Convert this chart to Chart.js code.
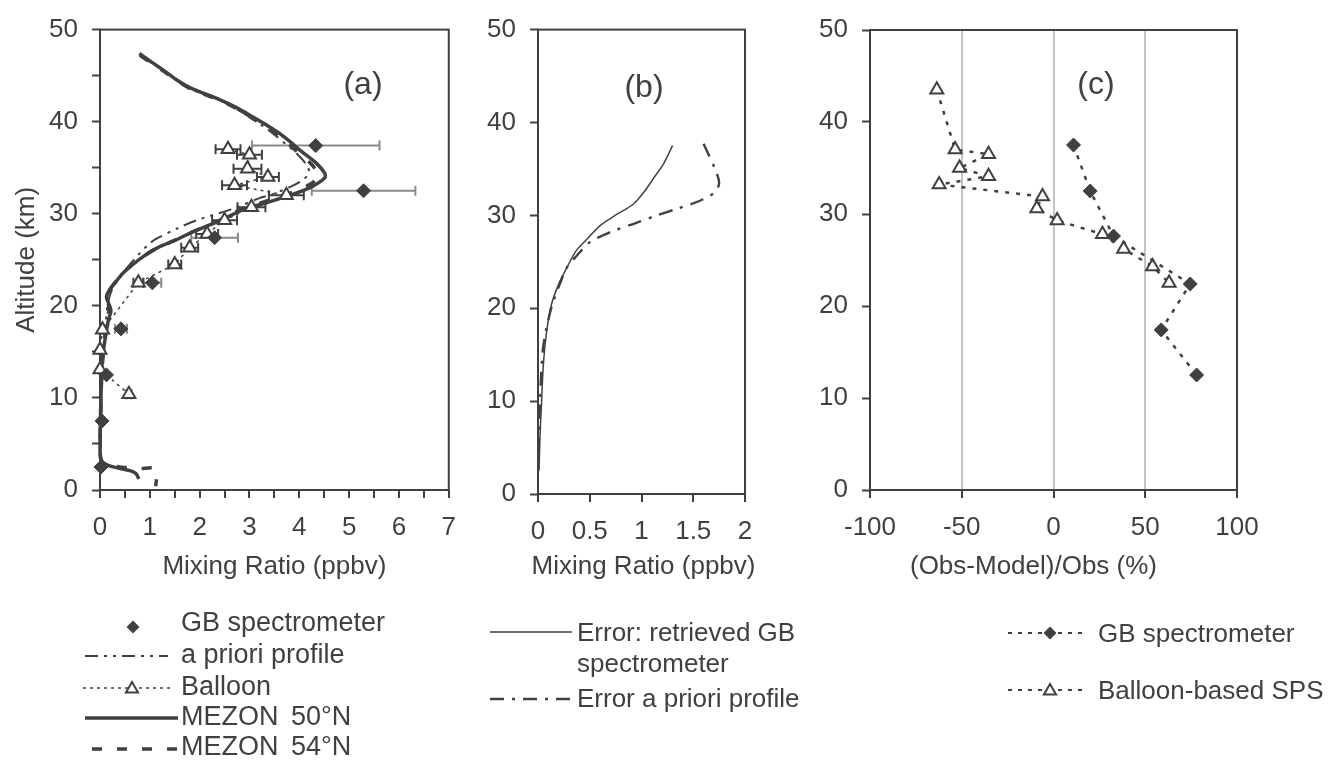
<!DOCTYPE html>
<html>
<head>
<meta charset="utf-8">
<script src="https://cdn.jsdelivr.net/npm/chart.js@4.4.1/dist/chart.umd.min.js"></script>
<style>
  html, body { margin: 0; padding: 0; background: #fff; }
  body { width: 1335px; height: 760px; position: relative; overflow: hidden;
         font-family: "Liberation Sans", Arial, sans-serif; color: #404040; }
  canvas { position: absolute; top: 0; }
  .tag { position: absolute; font-size: 32px; line-height: 1; transform: translate(-50%, -50%); white-space: nowrap; }
  .lg { position: absolute; font-size: 26px; line-height: 26px; white-space: nowrap; }
  .lga { position: absolute; font-size: 27px; line-height: 27px; white-space: nowrap; }
  .lg2 { position: absolute; font-size: 26px; line-height: 31px; white-space: nowrap; }
  svg.keys { position: absolute; left: 0; top: 0; width: 1335px; height: 760px; overflow: visible; }
</style>
</head>
<body>
<canvas id="chartA" width="470" height="600" style="left:0px"></canvas>
<canvas id="chartB" width="330" height="600" style="left:470px"></canvas>
<canvas id="chartC" width="555" height="600" style="left:780px"></canvas>

<div class="tag" style="left:363px;top:83px">(a)</div>
<div class="tag" style="left:644px;top:86px">(b)</div>
<div class="tag" style="left:1096px;top:83px">(c)</div>

<svg class="keys" id="keys"></svg>

<div class="lga" style="left:181px;top:609px">GB spectrometer</div>
<div class="lga" style="left:181px;top:641px">a priori profile</div>
<div class="lga" style="left:181px;top:673px">Balloon</div>
<div class="lga" style="left:181px;top:703px;word-spacing:5px">MEZON 50°N</div>
<div class="lga" style="left:181px;top:733px;word-spacing:5px">MEZON 54°N</div>

<div class="lg2" style="left:577px;top:617px">Error: retrieved GB<br>spectrometer</div>
<div class="lg" style="left:577px;top:685px">Error a priori profile</div>

<div class="lg" style="left:1098px;top:620px">GB spectrometer</div>
<div class="lg" style="left:1098px;top:677px">Balloon-based SPS</div>

<script>
// ---------- Panel (a): mixing ratio profiles (ppbv vs km) ----------
const gbAlt = [37.4, 32.5, 27.4, 22.5, 17.5, 12.5, 7.5, 2.5];
const gbMix = [4.33, 5.29, 2.30, 1.05, 0.42, 0.13, 0.04, 0.02];
const gbErr = [1.28, 1.04, 0.47, 0.18, 0.12, 0.03, 0.02, 0.02];

const balAlt = [37.0, 36.4, 34.9, 34.0, 33.1, 32.0, 30.7, 29.3, 27.8, 26.3, 24.5, 22.5, 17.4, 15.2, 13.1, 10.4];
const balMix = [2.57, 3.00, 2.96, 3.37, 2.70, 3.74, 3.04, 2.50, 2.15, 1.80, 1.50, 0.77, 0.05, 0.00, 0.00, 0.58];
const balErr = [0.25, 0.25, 0.28, 0.22, 0.25, 0.35, 0.28, 0.25, 0.22, 0.17, 0.13, 0.10, 0.03, 0.02, 0.02, 0.05];

const m50Alt = [47.4, 46.6, 45.6, 44.6, 43.7, 42.4, 41.5, 40.5, 39.6, 38.7, 37.8, 36.9, 35.5, 34.4, 33.9, 33.0, 32.1, 31.2,
                30.4, 29.8, 28.9, 28.0, 27.1, 26.3, 25.4, 24.5, 23.6, 22.7, 21.8, 21.0, 20.3, 19.5, 18.5, 16.3, 13.8,
                10.3, 4.6, 3.2, 2.7, 2.4, 2.1, 1.8, 1.2];
const m50Mix = [0.79, 1.00, 1.27, 1.52, 1.80, 2.40, 2.75, 3.07, 3.35, 3.61, 3.82, 4.01, 4.34, 4.51, 4.51, 4.27, 3.87, 3.34,
                2.85, 2.62, 2.25, 1.85, 1.50, 1.15, 0.88, 0.66, 0.47, 0.33, 0.20, 0.13, 0.17, 0.22, 0.17, 0.10, 0.04,
                0.02, 0.00, 0.03, 0.15, 0.35, 0.60, 0.72, 0.78];

const m54Alt = [47.2, 46.4, 45.4, 44.4, 43.5, 42.3, 41.3, 40.3, 39.4, 38.5, 37.6, 36.7, 35.4, 34.3, 33.8, 33.0, 32.2, 31.3,
                30.5, 29.7, 28.8, 27.9, 27.0, 26.2, 25.3, 24.4, 23.5, 22.6, 21.7, 20.8, 19.8, 18.6, 16.0, 13.0,
                9.5, 4.5, 3.0, 2.6, 2.3, 2.3, 0.4];
const m54Mix = [0.80, 1.02, 1.30, 1.56, 1.84, 2.42, 2.78, 3.08, 3.34, 3.58, 3.78, 3.96, 4.24, 4.38, 4.36, 4.15, 3.80, 3.30,
                2.82, 2.58, 2.20, 1.80, 1.45, 1.12, 0.85, 0.63, 0.45, 0.31, 0.19, 0.14, 0.18, 0.15, 0.09, 0.04,
                0.02, 0.00, 0.04, 0.30, 0.75, 1.12, 1.12];

const aprAlt = [47.2, 46.4, 45.4, 44.4, 43.5, 42.3, 41.3, 40.3, 39.4, 38.5, 37.6, 36.9, 35.5, 34.5, 33.8, 33.0, 32.1, 31.7,
                30.6, 29.3, 28.4, 27.4, 26.8, 25.6, 24.5, 23.0, 21.5, 20.0, 18.5, 17.0, 14.0, 10.0, 6.0, 3.0];
const aprMix = [0.82, 1.03, 1.31, 1.57, 1.85, 2.42, 2.76, 3.06, 3.30, 3.52, 3.72, 3.88, 4.12, 4.20, 4.10, 3.85, 3.45, 3.20,
                2.70, 1.94, 1.55, 1.17, 1.00, 0.78, 0.60, 0.38, 0.22, 0.15, 0.12, 0.09, 0.05, 0.03, 0.02, 0.02];

const altTicksA = [0, 5, 10, 15, 20, 25, 30, 35, 40, 45, 50];
const mixTicksA = [0, 0.5, 1, 1.5, 2, 2.5, 3, 3.5, 4, 4.5, 5, 5.5, 6, 6.5, 7];

// ---------- Panel (b): errors (ppbv vs km) ----------
const errRetAlt = [37.5, 35.5, 33.9, 32.6, 31.2, 30.1, 28.9, 27.4, 26.2, 24.4, 22.6, 20.4, 17.2, 13.6, 10.0, 6.4, 2.5];
const errRetVal = [1.30, 1.21, 1.11, 1.03, 0.92, 0.76, 0.60, 0.47, 0.37, 0.28, 0.20, 0.13, 0.08, 0.05, 0.035, 0.02, 0.01];
const errAprAlt = [37.7, 35.0, 33.5, 32.5, 31.6, 30.7, 30.0, 29.2, 28.2, 27.1, 25.6, 24.4, 22.6, 20.1, 15.8, 10.0, 2.5];
const errAprVal = [1.60, 1.71, 1.75, 1.71, 1.57, 1.34, 1.15, 0.95, 0.70, 0.50, 0.37, 0.28, 0.21, 0.13, 0.05, 0.02, 0.00];

const altTicksB = [0, 10, 20, 30, 40, 50];
const mixTicksB = [0, 0.5, 1, 1.5, 2];

// ---------- Panel (c): relative difference (%) vs km ----------
const devGbAlt = [37.5, 32.5, 27.6, 22.4, 17.4, 12.5];
const devGbPct = [10.9, 20.0, 32.7, 74.5, 58.7, 78.0];
const devBalAlt = [43.5, 37.0, 36.5, 35.0, 34.1, 33.2, 31.9, 30.6, 29.3, 27.8, 26.2, 24.3, 22.5];
const devBalPct = [-63.6, -53.6, -35.4, -51.2, -35.4, -62.3, -6.0, -9.1, 2.0, 26.7, 38.2, 54.0, 63.0];

const altTicksC = [0, 10, 20, 30, 40, 50];
const pctTicksC = [-100, -50, 0, 50, 100];
const pctGridC = [-50, 0, 50];

// ---------- shared styling ----------
const INK = '#404040';
const FONT = '"Liberation Sans", Arial, sans-serif';
Chart.defaults.font.family = FONT;
Chart.defaults.color = INK;

const pts = (xs, ys) => xs.map((x, i) => ({ x: x, y: ys[i] }));

// frame around the plotting area
const frame = {
  id: 'frame',
  beforeDatasetsDraw(chart) {
    const { ctx, chartArea: a } = chart;
    ctx.save();
    ctx.strokeStyle = INK;
    ctx.lineWidth = 2;
    ctx.strokeRect(a.left, a.top, a.right - a.left, a.bottom - a.top);
    ctx.restore();
  }
};

// x-axis caption drawn under the plot, free to run wider than the axis
const xCaption = {
  id: 'xCaption',
  afterDraw(chart, args, opts) {
    const { ctx, chartArea: a } = chart;
    ctx.save();
    ctx.fillStyle = INK;
    ctx.font = '26px ' + FONT;
    ctx.textAlign = 'center';
    ctx.textBaseline = 'middle';
    ctx.fillText(opts.text, (a.left + a.right) / 2 + (opts.dx || 0), a.bottom + opts.dy);
    ctx.restore();
  }
};

// horizontal error bars taken from dataset.xErr
const errorBars = {
  id: 'errorBars',
  beforeDatasetsDraw(chart) {
    const { ctx } = chart;
    const xs = chart.scales.x, ys = chart.scales.y;
    chart.data.datasets.forEach((ds, i) => {
      if (!ds.xErr || !chart.isDatasetVisible(i)) return;
      ctx.save();
      ctx.strokeStyle = ds.errColor;
      ctx.lineWidth = 2;
      ds.data.forEach((p, k) => {
        const e = ds.xErr[k];
        const x1 = xs.getPixelForValue(p.x - e);
        const x2 = xs.getPixelForValue(p.x + e);
        const y = ys.getPixelForValue(p.y);
        ctx.beginPath();
        ctx.moveTo(x1, y); ctx.lineTo(x2, y);
        ctx.moveTo(x1, y - 5); ctx.lineTo(x1, y + 5);
        ctx.moveTo(x2, y - 5); ctx.lineTo(x2, y + 5);
        ctx.stroke();
      });
      ctx.restore();
    });
  }
};

function yAxis(ticks, labelEvery, width, title) {
  return {
    type: 'linear', min: 0, max: 50,
    afterBuildTicks: s => { s.ticks = ticks.map(v => ({ value: v })); },
    afterFit: s => { s.width = width; },
    border: { display: false },
    grid: { display: true, drawOnChartArea: false, drawTicks: true, tickLength: 8, tickColor: INK, tickWidth: 2 },
    ticks: { padding: 14, color: INK, font: { size: 26, family: FONT },
             callback: v => (v % labelEvery === 0 ? String(v) : '') },
    title: title ? { display: true, text: title, color: INK, font: { size: 26, family: FONT },
                     padding: { top: 11, bottom: 0 } } : { display: false }
  };
}

function xAxis(min, max, ticks, labelFn, gridColor) {
  return {
    type: 'linear', min: min, max: max,
    afterBuildTicks: s => { s.ticks = ticks.map(v => ({ value: v })); },
    afterFit: s => { s.height = 90; },
    border: { display: false },
    grid: { display: true, drawOnChartArea: !!gridColor, drawTicks: true, tickLength: 8,
            tickColor: INK, tickWidth: 2, lineWidth: 2,
            color: gridColor || 'rgba(0,0,0,0)' },
    ticks: { padding: 14, color: INK, font: { size: 26, family: FONT }, maxRotation: 0,
             autoSkip: false, callback: labelFn },
    title: { display: false }
  };
}

const baseOpts = (padding, caption) => ({
  responsive: false,
  animation: false,
  events: [],
  layout: { padding: padding },
  plugins: { legend: { display: false }, tooltip: { enabled: false }, xCaption: caption }
});

// ---------- chart (a) ----------
new Chart(document.getElementById('chartA'), {
  type: 'scatter',
  data: {
    datasets: [
      { label: 'GB spectrometer', data: pts(gbMix, gbAlt), xErr: gbErr, errColor: '#8a8a8a',
        showLine: false, pointStyle: 'rectRot', pointRadius: 7, backgroundColor: INK, borderColor: INK,
        pointBorderWidth: 1, order: 0, clip: false },
      { label: 'Balloon', data: pts(balMix, balAlt), xErr: balErr, errColor: INK,
        showLine: true, borderColor: INK, borderWidth: 1.5, borderDash: [3, 4],
        pointStyle: 'triangle', pointRadius: 7.5, pointBackgroundColor: '#fff', pointBorderColor: INK,
        pointBorderWidth: 2, order: 1, clip: false },
      { label: 'MEZON 50°N', data: pts(m50Mix, m50Alt), showLine: true, borderColor: INK, borderWidth: 3.5,
        pointRadius: 0, tension: 0.3, order: 3, clip: false },
      { label: 'MEZON 54°N', data: pts(m54Mix, m54Alt), showLine: true, borderColor: INK, borderWidth: 3.5,
        borderDash: [10, 15], pointRadius: 0, tension: 0.3, order: 4, clip: false },
      { label: 'a priori profile', data: pts(aprMix, aprAlt), showLine: true, borderColor: INK, borderWidth: 2,
        borderDash: [13, 6, 3, 6, 3, 6], pointRadius: 0, tension: 0.3, order: 2, clip: false }
    ]
  },
  options: Object.assign(baseOpts({ left: 0, top: 21, right: 21, bottom: 20 },
                                  { text: 'Mixing Ratio (ppbv)', dx: 0, dy: 77 }), {
    scales: {
      x: xAxis(0, 7, mixTicksA, v => (Number.isInteger(v) ? String(v) : '')),
      y: yAxis(altTicksA, 10, 100, 'Altitude (km)')
    }
  }),
  plugins: [frame, errorBars, xCaption]
});

// ---------- chart (b) ----------
new Chart(document.getElementById('chartB'), {
  type: 'scatter',
  data: {
    datasets: [
      { label: 'Error: retrieved GB spectrometer', data: pts(errRetVal, errRetAlt), showLine: true,
        borderColor: INK, borderWidth: 1.5, pointRadius: 0, tension: 0.3, clip: false },
      { label: 'Error a priori profile', data: pts(errAprVal, errAprAlt), showLine: true,
        borderColor: INK, borderWidth: 2.4, borderDash: [14, 8, 3, 8], pointRadius: 0, tension: 0.3, clip: false }
    ]
  },
  options: Object.assign(baseOpts({ left: 0, top: 29, right: 55, bottom: 16 },
                                  { text: 'Mixing Ratio (ppbv)', dx: 2, dy: 73 }), {
    scales: {
      x: xAxis(0, 2, mixTicksB, v => String(v)),
      y: yAxis(altTicksB, 10, 68, null)
    }
  }),
  plugins: [frame, xCaption]
});

// ---------- chart (c) ----------
new Chart(document.getElementById('chartC'), {
  type: 'scatter',
  data: {
    datasets: [
      { label: 'GB spectrometer', data: pts(devGbPct, devGbAlt), showLine: true,
        borderColor: INK, borderWidth: 2.5, borderDash: [4, 7],
        pointStyle: 'rectRot', pointRadius: 7, pointBackgroundColor: INK, pointBorderColor: INK,
        pointBorderWidth: 1, clip: false },
      { label: 'Balloon-based SPS', data: pts(devBalPct, devBalAlt), showLine: true,
        borderColor: INK, borderWidth: 2.5, borderDash: [4, 7],
        pointStyle: 'triangle', pointRadius: 7.5, pointBackgroundColor: '#fff', pointBorderColor: INK,
        pointBorderWidth: 2, clip: false }
    ]
  },
  options: Object.assign(baseOpts({ left: 0, top: 30, right: 98, bottom: 20 },
                                  { text: '(Obs-Model)/Obs (%)', dx: -20, dy: 77 }), {
    scales: {
      x: xAxis(-100, 100, pctTicksC, v => String(v),
               ctx => (ctx.tick && pctGridC.includes(ctx.tick.value) ? '#c4c4c4' : 'rgba(0,0,0,0)')),
      y: yAxis(altTicksC, 10, 90, null)
    }
  }),
  plugins: [frame, xCaption]
});

// ---------- legend keys ----------
const NS = 'http://www.w3.org/2000/svg';
const keys = document.getElementById('keys');
function line(x1, x2, y, w, dash) {
  const l = document.createElementNS(NS, 'line');
  l.setAttribute('x1', x1); l.setAttribute('x2', x2);
  l.setAttribute('y1', y); l.setAttribute('y2', y);
  l.setAttribute('stroke', INK); l.setAttribute('stroke-width', w);
  if (dash) l.setAttribute('stroke-dasharray', dash);
  keys.appendChild(l);
}
function diamond(cx, cy, r) {
  const p = document.createElementNS(NS, 'polygon');
  p.setAttribute('points', `${cx},${cy - r} ${cx + r},${cy} ${cx},${cy + r} ${cx - r},${cy}`);
  p.setAttribute('fill', INK);
  keys.appendChild(p);
}
function triangle(cx, cy, r) {
  const h = r * 0.866;
  const p = document.createElementNS(NS, 'polygon');
  p.setAttribute('points', `${cx},${cy - r} ${cx + h},${cy + r / 2} ${cx - h},${cy + r / 2}`);
  p.setAttribute('fill', '#fff'); p.setAttribute('stroke', INK); p.setAttribute('stroke-width', 2);
  keys.appendChild(p);
}
// (a)
diamond(133, 627, 6.5);
line(85, 168, 656, 2, '13 6 3 6 3 6');
line(83, 170, 688, 1.5, '3 4'); triangle(132, 689, 7);
line(85, 178, 718, 3.5);
line(92, 177, 749, 3.5, '10 15');
// (b)
line(490, 572, 632, 1.5);
line(490, 572, 699, 2.4, '14 8 3 8');
// (c)
line(1008, 1088, 633, 2, '4 6'); diamond(1050, 633, 6.5);
line(1008, 1088, 690, 2, '4 6'); triangle(1050, 691, 7);
</script>
</body>
</html>
